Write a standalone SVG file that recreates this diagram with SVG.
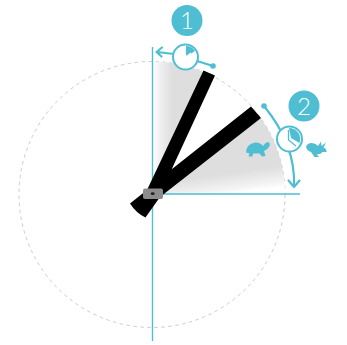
<svg xmlns="http://www.w3.org/2000/svg" width="347" height="345" viewBox="0 0 347 345">
<defs>
<linearGradient id="g1" gradientUnits="userSpaceOnUse" x1="153" y1="0" x2="172" y2="0"><stop offset="0" stop-color="#fff"/><stop offset="0.25" stop-color="#f4f4f4"/><stop offset="1" stop-color="#dedede"/></linearGradient>
<linearGradient id="g2" gradientUnits="userSpaceOnUse" x1="240" y1="193" x2="237" y2="172"><stop offset="0" stop-color="#fff"/><stop offset="0.25" stop-color="#f4f4f4"/><stop offset="1" stop-color="#dedede"/></linearGradient>
</defs>
<style>
.c{fill:none;stroke:#4fbdd2;stroke-width:2.200;stroke-linecap:round;stroke-linejoin:round}
.l{fill:none;stroke:#4fbdd2;stroke-width:1.400}
.b{fill:#4fbdd2}
.n{font-family:"Lato","Liberation Sans",sans-serif;font-size:24px;font-weight:300;fill:#fff;text-anchor:middle}
.f{fill:#fff;stroke:#4fbdd2;stroke-width:2}
</style>
<g id="dial">
<circle cx="152" cy="194.500" r="133" fill="none" stroke="#ccc" stroke-width="1" stroke-dasharray="3.500 3.500"/>
<path d="M152 194.500V61.500A133 133 0 0 1 206 73Z" fill="url(#g1)"/>
<path d="M152 194.500L256 112A133 133 0 0 1 285 194.500Z" fill="url(#g2)"/>
</g>
<g id="connectors">
<path class="l" d="M152.500 47V341"/>
<path class="l" d="M152 194H300"/>
<path class="c" d="M174 54L157 52M162 47.500L156.500 52L161.500 56.500"/>
<path class="c" d="M197 61L213 66"/>
<circle class="b" cx="213" cy="66" r="2.800"/>
<path class="c" d="M264 106Q296 145 294 187M288.500 180.500L294 187L299.500 180.500"/>
<circle class="b" cx="264" cy="106" r="2.800"/>
</g>
<g id="hands">
<path d="M203.500 70.500L215 75.500L171.700 169.300L251 106.500L261 118L160 197L145.500 217.500Q136 213 130 203.500L147 190Z" fill="#000"/>
<rect x="143" y="188.500" width="20" height="10.500" rx="2" fill="#8c8c8c"/>
<ellipse cx="152.700" cy="193.700" rx="2" ry="1.400" fill="#222"/>
</g>
<g id="clock1">
<circle class="f" cx="185.500" cy="57" r="12.500"/>
<path class="b" d="M186 46A11 11 0 0 1 195 51L187 56.500L185.500 53Z"/>
<path d="M185 48V58L191 53" fill="none" stroke="#fff" stroke-width="1.300"/>
</g>
<g id="clock2">
<circle class="f" cx="289.500" cy="139" r="12.500"/>
<path class="b" d="M289 128A11 11 0 0 1 299.500 143L291 138Z"/>
<path d="M288.500 130V140L296 146" fill="none" stroke="#4fbdd2" stroke-width="1.300"/>
</g>
<g id="badge1"><circle class="b" cx="187" cy="20.500" r="15.500"/><text class="n" x="187" y="29">1</text></g>
<g id="badge2"><circle class="b" cx="304" cy="106" r="15.500"/><text class="n" x="304" y="114.500">2</text></g>
<g id="turtle"><path class="b" d="M246 152.500Q246.500 144 255 142.500Q260 142 263 146Q265 142.500 268 142Q270.500 143 269.500 146Q268 149.500 264 151L265.500 156L262 156.500L259.500 153.500L253 153.500L252.500 156.500L248.500 156.500L249.500 153.500Z"/></g>
<g id="rabbit"><path class="b" d="M306 147Q307 143 312 143Q316 143.500 318 146L321 141.500L321.500 146L326 142.500L323.500 147.500Q327 149 326.500 152L322.500 152Q320 155 316.500 154L319 157L314.500 157L311 152Q307 151 306 147Z"/></g>
</svg>
